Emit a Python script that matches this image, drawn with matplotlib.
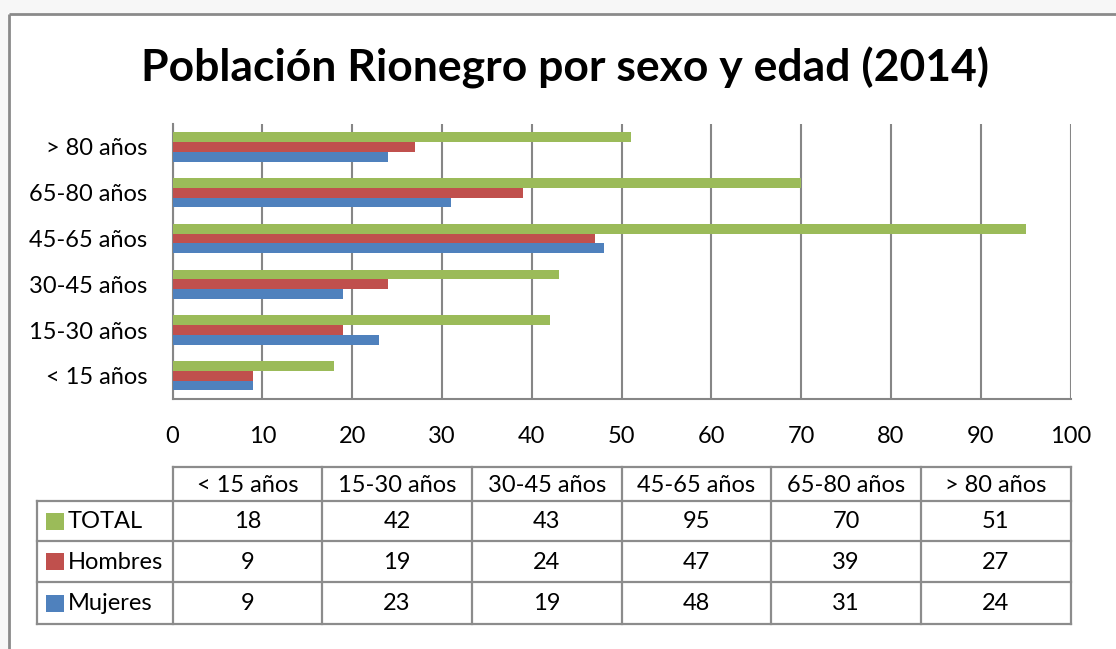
#!/usr/bin/env python3

import numpy as np
import matplotlib
matplotlib.use("Agg")
import matplotlib.pyplot as plt
from matplotlib.patches import Rectangle

categories = ["< 15 años", "15-30 años", "30-45 años", "45-65 años", "65-80 años", "> 80 años"]
series_names = ["TOTAL", "Hombres", "Mujeres"]
total = [18, 42, 43, 95, 70, 51]
hombres = [9, 19, 24, 47, 39, 27]
mujeres = [9, 23, 19, 48, 31, 24]
x_ticks = [0, 10, 20, 30, 40, 50, 60, 70, 80, 90, 100]

GREEN = "#9BBB59"
RED = "#C0504D"
BLUE = "#4F81BD"
GREY = "#868686"

W, H = 1116, 649
plt.rcParams['font.family'] = ['Lato', 'DejaVu Sans']
FS = 17


def px(x0, y0, x1, y1):
    # pixel box (top-left origin) -> figure fraction rect
    return [x0 / W, 1 - y1 / H, (x1 - x0) / W, (y1 - y0) / H]


def main():
    fig = plt.figure(figsize=(W / 100, H / 100), dpi=100)
    fig.patch.set_facecolor("white")

    # overlay in pixel coords for the frame and the data table
    over = fig.add_axes([0, 0, 1, 1])
    over.set_xlim(0, W)
    over.set_ylim(H, 0)
    over.axis('off')
    over.add_patch(Rectangle((0, 0), W, 13, color="#F7F7F7", lw=0))
    over.add_patch(Rectangle((0, 0), 8, H, color="#F7F7F7", lw=0))
    over.plot([8.5, W], [13.5, 13.5], color="#8A8A8A", lw=2, solid_capstyle='butt')
    over.plot([8.5, 8.5], [13.5, H], color="#8A8A8A", lw=2, solid_capstyle='butt')

    # title
    fig.text(565 / W, 1 - 68 / H, "Población Rionegro por sexo y edad (2014)",
             ha='center', va='center', fontsize=32, fontweight='bold')

    # bar chart
    left, right, top, bottom = 172.5, 1070.7, 124, 398.7
    ax = fig.add_axes(px(left, top, right, bottom))
    ax.patch.set_alpha(0)
    y = np.arange(len(categories))
    h = 0.213
    ax.barh(y + h, total, h, color=GREEN, zorder=3)
    ax.barh(y, hombres, h, color=RED, zorder=3)
    ax.barh(y - h, mujeres, h, color=BLUE, zorder=3)
    ax.set_xlim(0, 100)
    ax.set_ylim(-0.5, 5.5)
    ax.set_xticks(x_ticks)
    ax.set_yticks(y)
    ax.set_yticklabels(categories)
    ax.grid(axis='x', color=GREY, lw=1.5, zorder=0)
    ax.set_axisbelow(True)
    ax.spines['top'].set_visible(False)
    ax.spines['right'].set_visible(False)
    ax.spines['left'].set_color(GREY)
    ax.spines['bottom'].set_color(GREY)
    ax.spines['left'].set_linewidth(1.5)
    ax.spines['bottom'].set_linewidth(1.5)
    ax.tick_params(axis='y', length=0, labelsize=FS, pad=18)
    ax.tick_params(axis='x', length=0, labelsize=FS, pad=20)

    # data table below
    col_w = (right - left) / len(categories)
    col_x = [left + i * col_w for i in range(len(categories) + 1)]
    row_y = [467, 501, 541, 582, 624]
    tab_left = 37
    lc = "#8C8C8C"
    lw = 1.6
    over.plot([left, right], [row_y[0], row_y[0]], color=lc, lw=lw)
    for ry in row_y[1:]:
        over.plot([tab_left, right], [ry, ry], color=lc, lw=lw)
    over.plot([tab_left, tab_left], [row_y[1], row_y[-1]], color=lc, lw=lw)
    for cx in col_x:
        over.plot([cx, cx], [row_y[0], row_y[-1]], color=lc, lw=lw)

    for i, cat in enumerate(categories):
        cx = (col_x[i] + col_x[i + 1]) / 2
        over.text(cx, (row_y[0] + row_y[1]) / 2 + 1, cat, ha='center', va='center', fontsize=FS)

    rows = [total, hombres, mujeres]
    colors = [GREEN, RED, BLUE]
    for r, (name, vals, c) in enumerate(zip(series_names, rows, colors)):
        cy = (row_y[r + 1] + row_y[r + 2]) / 2
        over.add_patch(Rectangle((46, cy - 8.5), 18, 17, color=c, lw=0))
        over.text(68, cy + 1, name, ha='left', va='center', fontsize=FS)
        for i, v in enumerate(vals):
            cx = (col_x[i] + col_x[i + 1]) / 2
            over.text(cx, cy + 1, str(v), ha='center', va='center', fontsize=FS)

    fig.savefig("out.png", dpi=100)


if __name__ == '__main__':
    main()
